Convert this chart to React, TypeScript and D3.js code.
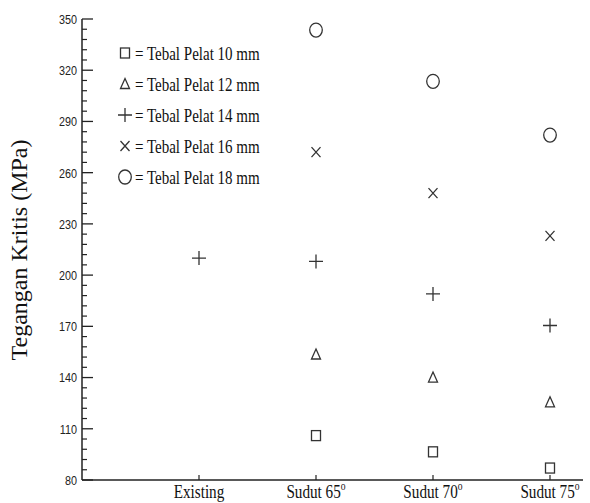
import React from 'react';
import * as d3 from 'd3';

const categories = ['Existing', 'Sudut 65', 'Sudut 70', 'Sudut 75'];
const seriesNames = [
  'Tebal Pelat 10 mm',
  'Tebal Pelat 12 mm',
  'Tebal Pelat 14 mm',
  'Tebal Pelat 16 mm',
  'Tebal Pelat 18 mm',
];
const seriesSymbols = ['square', 'triangle', 'plus', 'cross', 'circle'];
// null = no value for that category
const pelat10 = [null, 106, 96.5, 87];
const pelat12 = [null, 153.5, 140, 125.5];
const pelat14 = [210, 208, 189, 170.5];
const pelat16 = [null, 272, 248, 223];
const pelat18 = [null, 343.5, 313.5, 282];
const seriesValues = [pelat10, pelat12, pelat14, pelat16, pelat18];
const yTicks = [80, 110, 140, 170, 200, 230, 260, 290, 320, 350];

const W = 590;
const H = 503;
const margin = { left: 82, top: 19, bottom: 23 };
const serif = 'Liberation Serif, Times New Roman, serif';

function marker(type: string, cx: number, cy: number, key: string) {
  const stroke = '#333';
  const sw = 1.3;
  switch (type) {
    case 'square':
      return <rect key={key} x={cx - 4.5} y={cy - 5} width={9} height={10} fill="none" stroke={stroke} strokeWidth={sw} />;
    case 'triangle':
      return <path key={key} d={`M${cx},${cy - 5.5}L${cx + 4.5},${cy + 4.5}L${cx - 4.5},${cy + 4.5}Z`} fill="none" stroke={stroke} strokeWidth={sw} />;
    case 'plus':
      return <path key={key} d={`M${cx - 7},${cy}H${cx + 7}M${cx},${cy - 7}V${cy + 7}`} fill="none" stroke={stroke} strokeWidth={sw} />;
    case 'cross':
      return <path key={key} d={`M${cx - 4.5},${cy - 5}L${cx + 4.5},${cy + 5}M${cx + 4.5},${cy - 5}L${cx - 4.5},${cy + 5}`} fill="none" stroke={stroke} strokeWidth={sw} />;
    default:
      return <ellipse key={key} cx={cx} cy={cy} rx={6.3} ry={7} fill="none" stroke={stroke} strokeWidth={sw} />;
  }
}

// narrow the text horizontally around its anchor point
const squeeze = (x: number, y: number, k: number) =>
  `translate(${x},${y}) scale(${k},1) translate(${-x},${-y})`;

export default function App() {
  const y = d3.scaleLinear().domain([80, 350]).range([H - margin.bottom, margin.top]);
  // category index 0 sits one step right of the axis
  const x = d3.scaleLinear().domain([0, 4]).range([margin.left, 550]);
  const xEnd = 583;
  const minorTicks = d3.range(80, 351, 6).filter(v => (v - 80) % 30 !== 0);

  return (
    <svg width={W} height={H} style={{ position: 'absolute', left: 0, top: 0, background: '#fff' }}>
      {/* axes */}
      <line x1={margin.left} x2={margin.left} y1={y(350)} y2={y(80)} stroke="#222" strokeWidth={1.5} />
      <line x1={margin.left} x2={xEnd} y1={y(80)} y2={y(80)} stroke="#222" strokeWidth={1.5} />
      {yTicks.map(t => (
        <g key={t}>
          <line x1={margin.left} x2={margin.left + 11} y1={y(t)} y2={y(t)} stroke="#222" strokeWidth={1.3} />
          <text x={margin.left - 5} y={y(t)} dy="0.36em" textAnchor="end"
            fontFamily="Liberation Sans, Arial, sans-serif" fontSize={13.5} fill="#222"
            transform={squeeze(margin.left - 5, y(t), 0.8)}>
            {t}
          </text>
        </g>
      ))}
      {minorTicks.map(t => (
        <line key={t} x1={margin.left} x2={margin.left + 5} y1={y(t)} y2={y(t)} stroke="#222" strokeWidth={1.2} />
      ))}
      {categories.map((c, i) => (
        <g key={c}>
          <line x1={x(i + 1)} x2={x(i + 1)} y1={y(80)} y2={y(80) - 5} stroke="#222" strokeWidth={1.2} />
          <text x={x(i + 1)} y={498} textAnchor="middle" fontFamily={serif}
            fontSize={19} fill="#111" transform={squeeze(x(i + 1), 498, 0.8)}>
            {c}
            {i > 0 && <tspan dy={-8} fontSize={12}>o</tspan>}
          </text>
        </g>
      ))}
      {/* y label */}
      <text transform="translate(27,250) rotate(-90)" textAnchor="middle"
        fontFamily={serif} fontSize={24} fill="#111">
        Tegangan Kritis (MPa)
      </text>
      {/* data */}
      {seriesValues.map((vals, s) =>
        vals.map((v, i) => (v == null ? null : marker(seriesSymbols[s], x(i + 1), y(v), `${s}-${i}`)))
      )}
      {/* legend */}
      {seriesNames.map((n, s) => {
        const ly = 53 + s * 31;
        return (
          <g key={n}>
            {marker(seriesSymbols[s], 125, ly, `lg-${s}`)}
            <text x={135} y={ly + 7} fontFamily={serif}
              fontSize={19.5} fill="#111" transform={squeeze(135, ly + 7, 0.77)}>
              = {n}
            </text>
          </g>
        );
      })}
    </svg>
  );
}
